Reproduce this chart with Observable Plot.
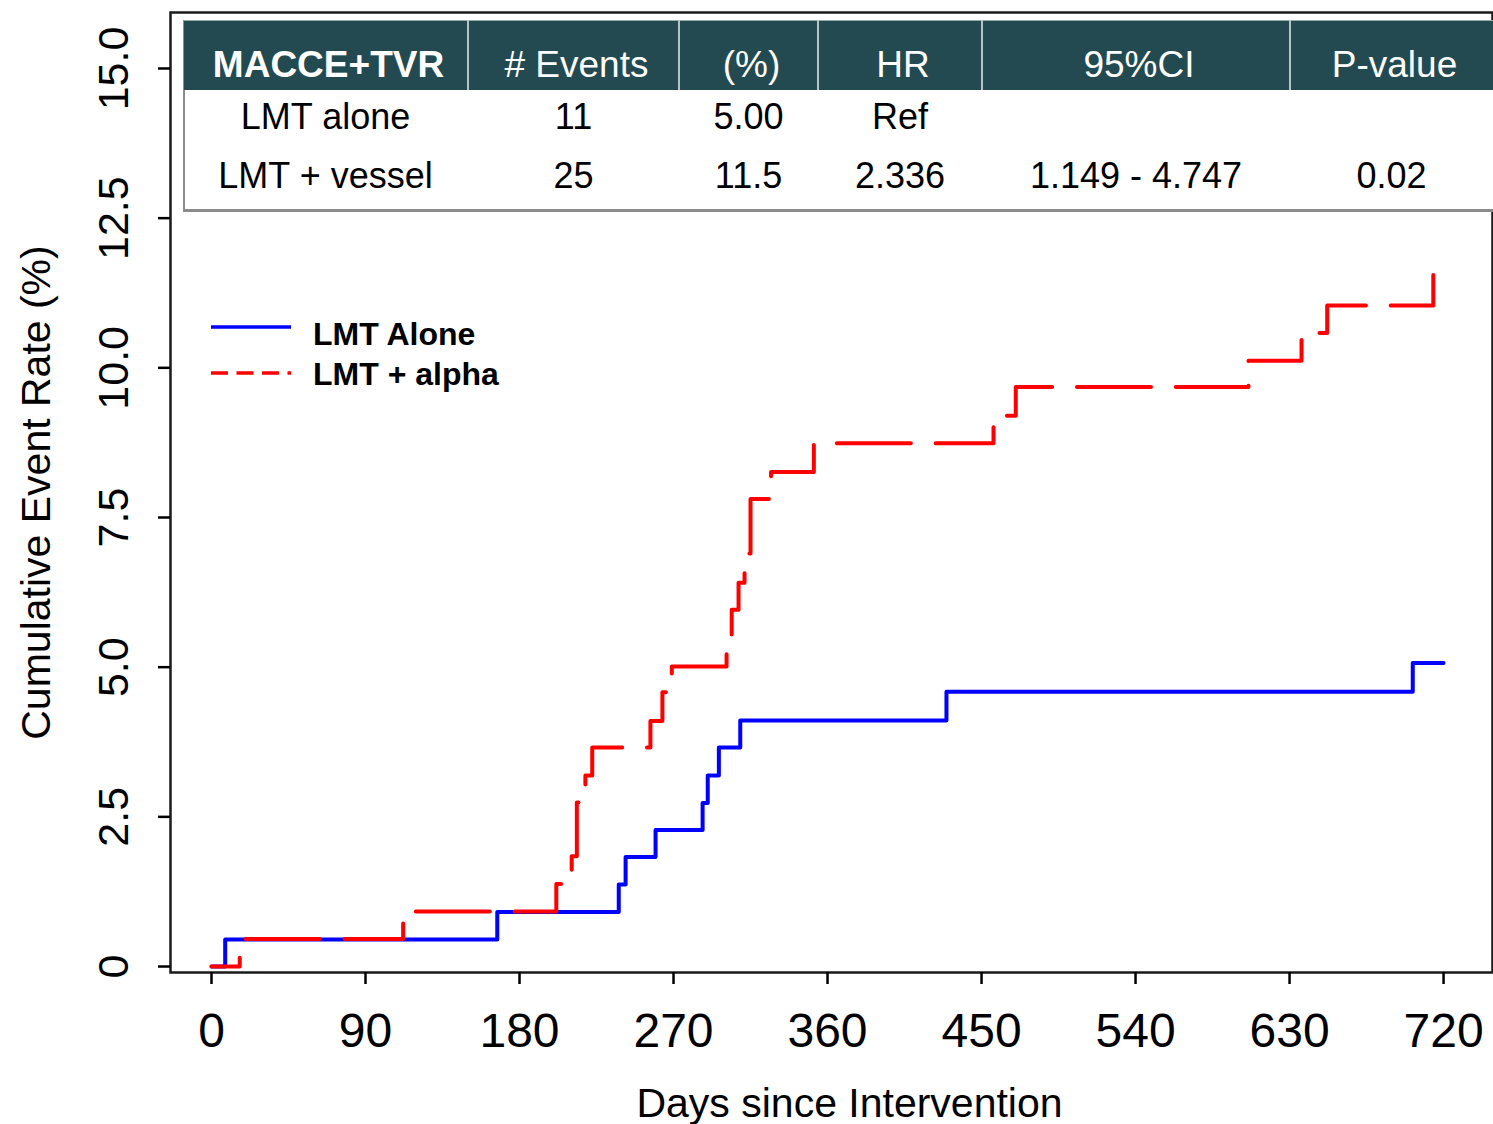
<!DOCTYPE html>
<html><head><meta charset="utf-8">
<script src="https://cdn.jsdelivr.net/npm/d3@7"></script>
<script src="https://cdn.jsdelivr.net/npm/@observablehq/plot@0.6"></script>
<style>
html,body{margin:0;padding:0;background:#fff;}
#wrap{position:relative;width:1493px;height:1124px;overflow:hidden;font-family:"Liberation Sans",Arial,Helvetica,sans-serif;background:#fff;}
#wrap > svg{position:absolute;left:0;top:0;}
.cell{position:absolute;text-align:center;line-height:1;white-space:nowrap;}
</style></head><body><div id="wrap"></div>
<script>
// ---- data ----
const xTicks = [0, 90, 180, 270, 360, 450, 540, 630, 720];
const yTicks = [0, 2.5, 5, 7.5, 10, 12.5, 15];
const yTickLabels = ["0", "2.5", "5.0", "7.5", "10.0", "12.5", "15.0"];
const xTitle = "Days since Intervention";
const yTitle = "Cumulative Event Rate (%)";
const seriesNames = ["LMT Alone", "LMT + alpha"];
const aloneDays  = [0, 8, 167, 238, 242, 259.5, 287, 290, 296.5, 309, 429.5, 702, 720];
const aloneRates = [0, 0.45, 0.91, 1.37, 1.83, 2.28, 2.73, 3.19, 3.66, 4.11, 4.59, 5.07, 5.07];
const alphaDays  = [0, 16.5, 112, 201.5, 210.5, 213.5, 218.5, 222.5, 256.5, 263.5, 269, 301, 304, 308, 311.5, 315, 327, 352, 457, 470, 606, 637, 652, 714];
const alphaRates = [0, 0.46, 0.92, 1.38, 1.84, 2.74, 3.19, 3.66, 4.10, 4.58, 5.01, 5.52, 5.96, 6.41, 6.90, 7.81, 8.26, 8.74, 9.20, 9.68, 10.12, 10.58, 11.04, 11.55];
const tableHeader = ["MACCE+TVR", "# Events", "(%)", "HR", "95%CI", "P-value"];
const tableRow1 = ["LMT alone", "11", "5.00", "Ref", "", ""];
const tableRow2 = ["LMT + vessel", "25", "11.5", "2.336", "1.149 - 4.747", "0.02"];

const aloneData = aloneDays.map((d, i) => ({day: d, rate: aloneRates[i], group: seriesNames[0]}));
const alphaData = alphaDays.map((d, i) => ({day: d, rate: alphaRates[i], group: seriesNames[1]}));

const FONT = '"Liberation Sans", Arial, Helvetica, sans-serif';

const chart = Plot.plot({
  width: 1493,
  height: 1124,
  marginLeft: 170,
  marginRight: 1,
  marginTop: 12,
  marginBottom: 152,
  x: {domain: [-23.96, 748.6]},
  y: {domain: [-0.1, 15.935]},
  style: {fontFamily: FONT, background: "transparent", overflow: "visible", color: "#000"},
  marks: [
    Plot.line(aloneData, {x: "day", y: "rate", curve: "step-after", stroke: "#0000ff", strokeWidth: 4}),
    Plot.line(alphaData, {x: "day", y: "rate", curve: "step-after", stroke: "#ff0000", strokeWidth: 4,
      strokeDasharray: "74,24.8", strokeDashoffset: 37}),
    Plot.frame({stroke: "#1a1a1a", strokeWidth: 2.5}),
    Plot.axisX(xTicks, {tickSize: 12, tickPadding: 28, fontSize: 48, strokeWidth: 2.5, label: null,
      tickFormat: d => String(d)}),
    Plot.axisY(yTicks, {tickSize: 12, tickPadding: 31, tickRotate: -90, fontSize: 43, strokeWidth: 2.5, label: null,
      tickFormat: d => yTickLabels[yTicks.indexOf(d)]}),
    Plot.text([xTitle], {text: d => d, frameAnchor: "bottom", textAnchor: "middle", dx: 18, dy: 144, lineAnchor: "bottom", fontSize: 41, fill: "#000"}),
    Plot.text([yTitle], {text: d => d, frameAnchor: "left", textAnchor: "middle", dx: -121, rotate: -90, lineAnchor: "bottom", fontSize: 41, fill: "#000"})
  ]
});

const wrap = document.getElementById("wrap");
wrap.appendChild(chart);

// ---- table overlay ----
const colEdges = [183, 468, 679, 818, 982, 1290, 1493];
function addDiv(css, text, cls) {
  const d = document.createElement("div");
  if (cls) d.className = cls;
  d.style.cssText = css;
  if (text != null) d.textContent = text;
  wrap.appendChild(d);
  return d;
}
addDiv("position:absolute;left:183px;top:20px;width:1310px;height:192px;background:#fff;border-left:2px solid #8c8c8c;border-bottom:3px solid #8c8c8c;box-sizing:border-box;");
addDiv("position:absolute;left:184px;top:20px;width:1309px;height:70px;background:#224a50;border-top:1px solid #9aa;box-sizing:border-box;");
for (let i = 1; i < colEdges.length - 1; i++) {
  addDiv(`position:absolute;left:${colEdges[i] - 1}px;top:20px;width:2px;height:70px;background:#b8c3c5;`);
}
tableHeader.forEach((t, i) => {
  const w = colEdges[i + 1] - colEdges[i];
  addDiv(`position:absolute;left:${colEdges[i] + 3}px;top:46px;width:${w}px;font-size:37px;color:#fff;font-weight:${i === 0 ? 700 : 400};`, t, "cell");
});
[tableRow1, tableRow2].forEach((row, r) => {
  row.forEach((t, i) => {
    const w = colEdges[i + 1] - colEdges[i];
    addDiv(`position:absolute;left:${colEdges[i]}px;top:${r === 0 ? 99 : 158}px;width:${w}px;font-size:36px;color:#000;`, t, "cell");
  });
});

// ---- legend overlay ----
const ns = "http://www.w3.org/2000/svg";
const lg = document.createElementNS(ns, "svg");
lg.setAttribute("width", "120"); lg.setAttribute("height", "80");
lg.style.cssText = "position:absolute;left:200px;top:300px;";
const swatches = [{y: 27, color: "#0000ff", dash: null}, {y: 73, color: "#ff0000", dash: "17,8.5"}];
swatches.forEach(s => {
  const l = document.createElementNS(ns, "line");
  l.setAttribute("x1", 11); l.setAttribute("x2", 91);
  l.setAttribute("y1", s.y); l.setAttribute("y2", s.y);
  l.setAttribute("stroke", s.color); l.setAttribute("stroke-width", 3.5);
  if (s.dash) l.setAttribute("stroke-dasharray", s.dash);
  lg.appendChild(l);
});
wrap.appendChild(lg);
seriesNames.forEach((n, i) => {
  addDiv(`position:absolute;left:313px;top:${i === 0 ? 318 : 358}px;font-size:32px;font-weight:700;color:#000;line-height:1;white-space:nowrap;`, n);
});
</script></body></html>
